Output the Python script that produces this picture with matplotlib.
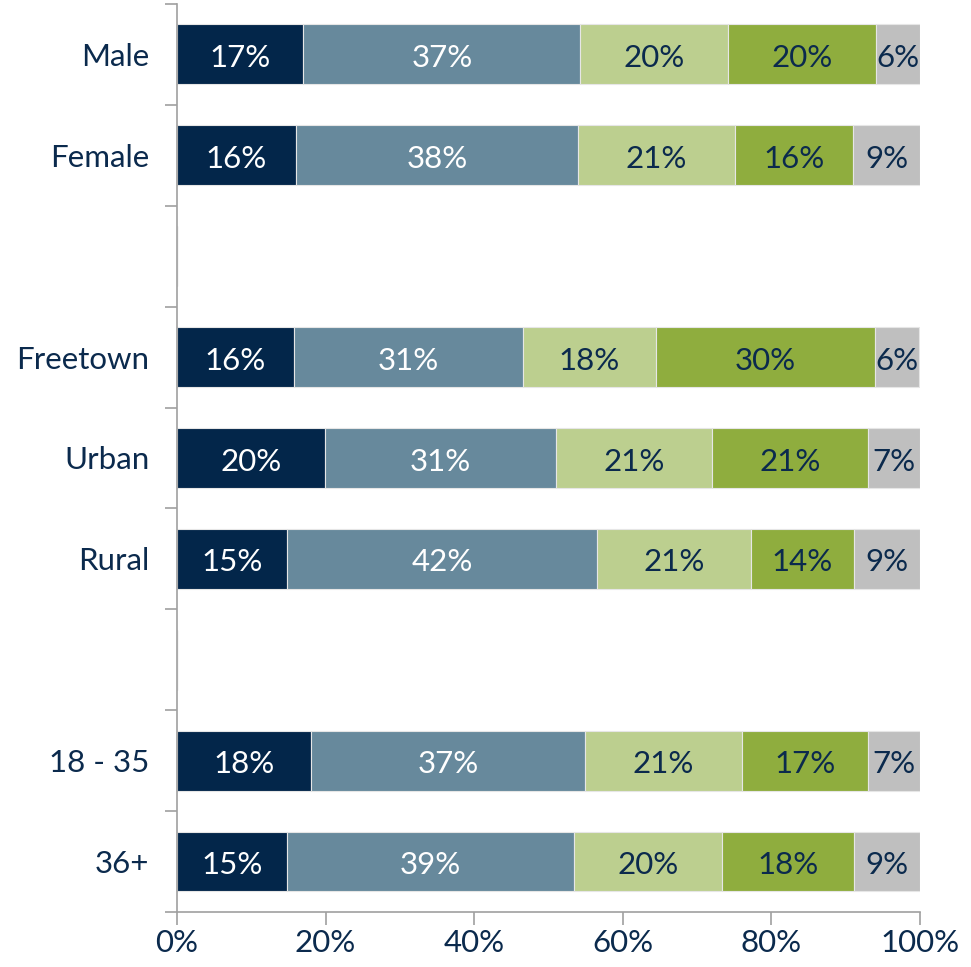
import matplotlib.pyplot as plt
import numpy as np

plt.rcParams['font.family'] = ['Lato', 'DejaVu Sans']

# rows top to bottom, empty string = spacer slot
categories = ['Male', 'Female', '', 'Freetown', 'Urban', 'Rural', '', '18 - 35', '36+']

# segment shares (%)
very_low = [17.0, 16.0, 0, 15.7, 19.9, 14.8, 0, 18.0, 14.8]
low = [37.3, 38.0, 0, 30.8, 31.1, 41.7, 0, 36.9, 38.6]
medium = [19.9, 21.1, 0, 17.9, 21.0, 20.7, 0, 21.1, 19.9]
high = [19.9, 15.9, 0, 29.6, 21.0, 13.9, 0, 17.0, 17.8]
very_high = [5.9, 9.0, 0, 5.9, 7.0, 8.9, 0, 7.0, 8.9]

# labels as printed in the chart
labels = [
    ['17%', '37%', '20%', '20%', '6%'],
    ['16%', '38%', '21%', '16%', '9%'],
    None,
    ['16%', '31%', '18%', '30%', '6%'],
    ['20%', '31%', '21%', '21%', '7%'],
    ['15%', '42%', '21%', '14%', '9%'],
    None,
    ['18%', '37%', '21%', '17%', '7%'],
    ['15%', '39%', '20%', '18%', '9%'],
]

colors = ['#03264a', '#67899c', '#bccf8f', '#8fad3e', '#bfbfbf']
text_colors = ['white', 'white', '#0b2a4d', '#0b2a4d', '#0b2a4d']
navy = '#0b2a4d'
axis_gray = '#a0a0a0'

fig = plt.figure(figsize=(9.71, 9.67), dpi=100)
ax = fig.add_axes([0.1823, 0.0569, 0.7652, 0.939])

series = [very_low, low, medium, high, very_high]
y = np.arange(len(categories))
left = np.zeros(len(categories))
for i, vals in enumerate(series):
    vals = np.array(vals, dtype=float)
    ax.barh(y, vals, left=left, height=0.594, color=colors[i],
            edgecolor='#e6e6e6', linewidth=0.8, zorder=2)
    for j, v in enumerate(vals):
        if labels[j] is None or v == 0:
            continue
        ax.text(left[j] + v / 2, y[j] + 0.035, labels[j][i], ha='center', va='center',
                color=text_colors[i], fontsize=22.5)
    left += vals

ax.set_xlim(0, 100)
ax.set_ylim(len(categories) - 0.5, -0.5)

ax.set_xticks(np.arange(0, 101, 20))
ax.set_xticklabels([f'{v}%' for v in range(0, 101, 20)], fontsize=22.5, color=navy)
# major ticks between the rows, labels on minor ticks at the bar centres
ax.set_yticks(np.arange(-0.5, len(categories), 1.0))
ax.set_yticklabels([])
ax.set_yticks(y, minor=True)
ax.set_yticklabels(categories, minor=True, fontsize=22.5, color=navy)

ax.tick_params(axis='y', which='major', length=9, color=axis_gray, width=1.2)
ax.tick_params(axis='y', which='minor', length=0, pad=20)
ax.tick_params(axis='x', length=9, color=axis_gray, width=1.2, pad=3)

for s in ['top', 'right']:
    ax.spines[s].set_visible(False)
for s in ['left', 'bottom']:
    ax.spines[s].set_color(axis_gray)
    ax.spines[s].set_linewidth(1.2)

fig.savefig('out.png', dpi=100)
